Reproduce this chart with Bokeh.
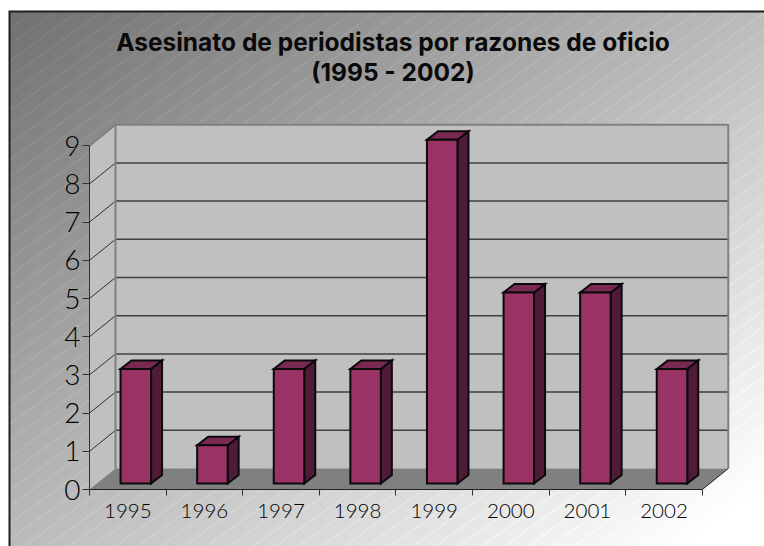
import numpy as np
from bokeh.plotting import figure
from bokeh.models import LinearAxis, FixedTicker, Range1d
from bokeh.core.properties import value
from bokeh.embed import file_html
from bokeh.resources import INLINE

# ---- data
years = ["1995", "1996", "1997", "1998", "1999", "2000", "2001", "2002"]
killed = [3, 1, 3, 3, 9, 5, 5, 3]
y_ticks = [0, 1, 2, 3, 4, 5, 6, 7, 8, 9]
title_lines = ["Asesinato de periodistas por razones de oficio", "(1995 - 2002)"]

W, H = 764, 546
OX, OY = 0, 0            # where the figure lands on the page
X0, UX = 89.0, 76.6      # image px of category edge 0, px per category
Y0, UY = 489.0, 38.2     # image px of value 0, px per unit
FONT = "Lato Light"
TITLE_FONT = "Inter"

xr = Range1d((OX - X0) / UX, (OX + W - X0) / UX)
yr = Range1d((Y0 - (OY + H)) / UY, (Y0 - OY) / UY)

p = figure(width=W, height=H, x_range=xr, y_range=yr, output_backend="svg",
           toolbar_location=None, min_border=0, x_axis_type=None, y_axis_type=None)
p.grid.visible = False
p.outline_line_color = None
p.background_fill_color = "white"
p.border_fill_color = "white"

# ---- background: diagonal gradient with pale hatch, top-left border
yy, xx = np.mgrid[0:H, 0:W]
px, py = xx + OX, yy + OY
t = (px / 764 + py / 546) / 2
g = 0x6e + (0xff - 0x6e) * np.clip(t * 1.06, 0, 1)
phase = (py + 0.72 * px) % 16.5
g = np.where(phase < 1.0, np.minimum(g + 16, 255), g)
rgba = np.zeros((H, W, 4), dtype=np.uint8)
rgba[..., 0] = rgba[..., 1] = rgba[..., 2] = g.astype(np.uint8)
rgba[..., 3] = 255
rgba[(py < 11) | (px < 8)] = (255, 255, 255, 255)
rgba[(py >= 10) & (py < 12) & (px >= 8)] = (30, 30, 30, 255)
rgba[(px >= 8) & (px < 10) & (py >= 10)] = (30, 30, 30, 255)
img = rgba[::-1].copy().view(np.uint32).reshape(H, W)
p.image_rgba(image=[img], x=xr.start, y=yr.start, dw=xr.end - xr.start, dh=yr.end - yr.start)

# ---- 3-D box
n = len(years)
top = max(y_ticks)
wall_dx, wall_dy = 26 / UX, 21 / UY
p.patch([0, wall_dx, wall_dx, 0], [0, wall_dy, top + wall_dy, top], fill_color="#c0c0c0", line_color=None)
p.patch([wall_dx, n + wall_dx, n + wall_dx, wall_dx], [wall_dy, wall_dy, top + wall_dy, top + wall_dy],
        fill_color="#c0c0c0", line_color=None)
p.patch([0, n, n + wall_dx, wall_dx], [0, 0, wall_dy, wall_dy], fill_color="#808080", line_color=None)

# gridlines
for v in y_ticks[1:-1]:
    p.line([0, wall_dx], [v, v + wall_dy], line_color="#303030", line_width=1)
    p.line([wall_dx, n + wall_dx], [v + wall_dy] * 2, line_color="#404040", line_width=1.5)
# wall borders
p.line([wall_dx, wall_dx], [wall_dy, top + wall_dy], line_color="#808080", line_width=2)
p.line([0, wall_dx, n + wall_dx, n + wall_dx], [top, top + wall_dy, top + wall_dy, wall_dy],
       line_color="#808080", line_width=2)
# floor edges
p.line([n, n + wall_dx], [0, wall_dy], line_color="#202020", line_width=1)

# ---- bars
bar_w = 30.5 / UX
off_x, off_y = 8 / UX, 6 / UY
side_x, side_y = 11 / UX, 8.5 / UY
outline = dict(line_color="#0a0a0a", line_width=2, line_join="miter")
centers = np.arange(n) + 0.5 + off_x
lefts, rights = centers - bar_w / 2, centers + bar_w / 2
tops = np.array(killed, dtype=float) + off_y
p.patches([[r, r + side_x, r + side_x, r] for r in rights],
          [[off_y, off_y + side_y, t_ + side_y, t_] for t_ in tops],
          fill_color="#501b38", **outline)
p.patches([[l, r, r + side_x, l + side_x] for l, r in zip(lefts, rights)],
          [[t_, t_, t_ + side_y, t_ + side_y] for t_ in tops],
          fill_color="#7a2952", **outline)
p.quad(left=lefts, right=rights, bottom=off_y, top=tops, fill_color="#993366", **outline)

# ---- axes
yax = LinearAxis(fixed_location=0, bounds=(0, top), ticker=FixedTicker(ticks=y_ticks),
                 axis_line_color="#303030", axis_line_width=1,
                 major_tick_line_color="#303030", major_tick_out=7, major_tick_in=0,
                 minor_tick_line_color=None, major_label_standoff=2,
                 major_label_text_font=FONT, major_label_text_font_size="28px",
                 major_label_text_color="#000000")
p.add_layout(yax, "left")

xax = LinearAxis(fixed_location=0, bounds=(0, n), ticker=FixedTicker(ticks=list(range(n + 1))),
                 axis_line_color="#202020", axis_line_width=1,
                 major_tick_line_color="#303030", major_tick_out=6, major_tick_in=0,
                 minor_tick_line_color=None,
                 major_label_overrides={i: "" for i in range(n + 1)})
p.add_layout(xax, "below")

mids = [i + 0.5 for i in range(n)]
xlab = LinearAxis(fixed_location=0, ticker=FixedTicker(ticks=mids),
                  axis_line_color=None, major_tick_line_color=None, minor_tick_line_color=None,
                  major_tick_out=0, major_tick_in=0, major_label_standoff=14,
                  major_label_overrides=dict(zip(mids, years)),
                  major_label_text_font=FONT, major_label_text_font_size="20.5px",
                  major_label_text_color="#000000")
p.add_layout(xlab, "below")

# ---- title
title_x = (392.5 - X0) / UX
for line, img_y in zip(title_lines, (41, 71)):
    p.text([title_x], [(Y0 - img_y) / UY], text=[line], text_align="center", text_baseline="middle",
           text_font=value(TITLE_FONT), text_font_style="bold", text_font_size="24.5px", text_color="#0a0a0a")

open("out.html", "w").write(file_html(p, INLINE))
